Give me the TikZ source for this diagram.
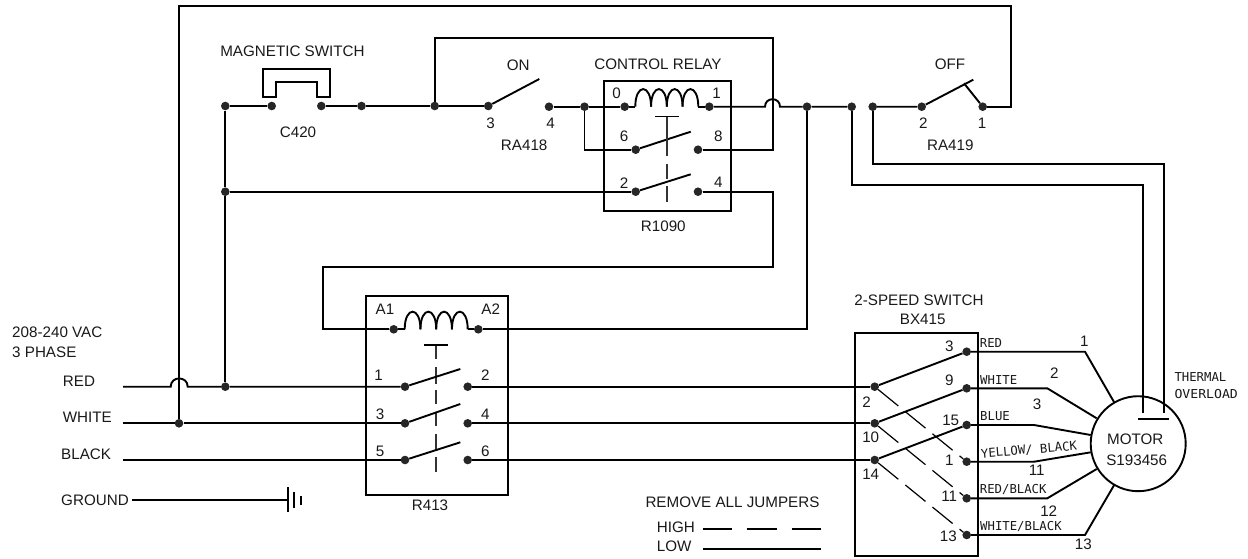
\documentclass[tikz,border=0pt]{standalone}
\usepackage{fontspec}
\setmainfont{Liberation Sans}
\newfontfamily\monolab{DejaVu Sans Mono}
\tikzset{
  wire/.style={line width=1.9pt,black},
  dashwire/.style={line width=1.2pt,black,dash pattern=on 26pt off 9pt},
  boxline/.style={line width=1.9pt,black},
  dotn/.style={circle,fill=black!85,inner sep=0pt,minimum size=8.6pt},
  lab/.style={inner sep=0pt,font=\fontsize{15.2}{16}\selectfont,text=black!90},
  labl/.style={lab,anchor=west},
  mlab/.style={inner sep=0pt,anchor=west,font=\monolab\fontsize{12.3}{13}\selectfont,text=black!90},
  crbar/.style={line width=1.3pt,black!80,dash pattern=on 39pt off 8pt on 15pt off 7pt on 17pt off 50pt},
  rbar/.style={line width=1.3pt,black!80,dash pattern=on 14pt off 8pt on 17pt off 6pt on 14pt off 9pt on 12.5pt off 8.5pt on 16pt off 6.5pt on 15pt off 50pt},
}
\newcommand{\coilshape}[2]{%
  \foreach \k in {0,1,2,3}{
    \draw[wire] ({#1+\k*15.75},#2) .. controls ({#1+\k*15.75},{#2-23.5}) and ({#1+(\k+1)*15.75},{#2-23.5}) .. ({#1+(\k+1)*15.75},#2);
  }}
\begin{document}
\begin{tikzpicture}[x=1pt,y=-1pt]
\useasboundingbox (0,0) rectangle (1248,558);
% ---- boxes
\node[draw,boxline,inner sep=0pt,minimum width=127pt,minimum height=130.3pt,anchor=north west] (boxCR) at (603.3,80) {};
\node[draw,boxline,inner sep=0pt,minimum width=142.3pt,minimum height=199.3pt,anchor=north west] (boxR) at (365,294.7) {};
\node[draw,boxline,inner sep=0pt,minimum width=123.3pt,minimum height=222.7pt,anchor=north west] (boxS) at (853.7,332) {};
\node[draw,boxline,circle,inner sep=0pt,minimum size=95pt] (motor) at (1138.2,443.7) {};
% ---- dots top row
\foreach \n/\x/\y in {jA/225.3/106, cL/271.7/106, cR/321.3/106, jB/361.5/106, jC/434.7/106, on3/488.3/106, on4/549/106.7, jD/584.5/106.7,
  cr0/624.7/106.7, cr1/709.3/106.7, jE/807/106.7, jF/851.7/106.7, jG/872.7/106.7, off2/921.7/106.7, off1/982.7/106.7,
  cr6/635.7/149.7, cr8/698/149.7, cr2/635.7/191.7, cr4/698/191.7, jH/225.3/191.7,
  a1/393.7/329.3, a2/478.3/329.3,
  r1/405/386.7, r2/467.7/386.7, r3/405/423.3, r4/467.7/423.3, r5/405/460, r6/467.7/460,
  jR/225.3/386.7, jW/179/423.3,
  sa/874.7/386.7, sb/874.7/423.3, sc/874.7/460,
  s3/966.7/351.7, s9/966.7/388.3, s15/966.7/425, s1/966.7/461.7, s11/966.7/498.3, s13/966.7/535}{
  \node[dotn] (\n) at (\x,\y) {};
}
% ---- free coordinates
\foreach \n/\x/\y in {inR/123/386.7, inW/123/423.3, inB/123/460, hopRL/170.7/386.7, hopRR/187.7/386.7,
  topL/179/5.7, topR/1011.3/5.7, offC/1011.3/106.7,
  upL/434.7/37.7, upR/772.7/37.7, cr8C/772.7/149.7, hopL/765/106.7, hopR/780/106.7,
  jDd/584.5/149.7, cr4C/772.7/191.7, cr4D/772.7/267, a1U/323/267, a1D/323/329.3, a2C/807/329.3,
  ola/872.7/164, olb/1164.3/164, olc/1164.3/412.7, oda/851.7/185, odb/1143.3/185, odc/1143.3/412.7,
  gndL/132.3/500, gndP/288.3/500,
  onT/539.3/79, crT6/690.7/131.7, crT2/690.7/174.3, offT/973.3/79.7, offK/964/83.3,
  rT1/460.3/369, rT3/460.3/404, rT5/460.3/442.3,
  m1a/1085/351.7, m1b/1114/402, m2a/1047.3/388.3, m2b/1096.7/418.3, m3a/1034/425, m3b/1090.7/435,
  m4a/1034/461.7, m4b/1090.7/452.3, m5a/1047.3/498.3, m5b/1096.7/469, m6a/1085/535, m6b/1114/485.3,
  hA/702.7/529, hB/731.7/529, hC/746.7/529, hD/776.7/529, hE/791.7/529, hF/820.7/529, lA/702.7/549.3, lB/820.7/549.3}{
  \coordinate (\n) at (\x,\y);
}
% ---- top wiring
\draw[wire] (jW) -- (topL) -- (topR) -- (offC) -- (off1);
\draw[wire] (jR) -- (jH) -- (jA) -- (cL);
\draw[wire] (jH) -- (cr2);
\draw[wire] (cR) -- (jB) -- (jC) -- (on3);
\draw[wire] (jC) -- (upL) -- (upR) -- (cr8C) -- (cr8);
\draw[wire] (on3) -- (onT);
\draw[wire] (on4) -- (jD) -- (cr0);
\draw[wire] (jD) -- (jDd) -- (cr6);
\draw[wire] (cr6) -- (crT6);
\draw[wire] (cr2) -- (crT2);
\draw[wire] (cr0) -- (635.3,106.7);
\draw[wire] (698.3,106.7) -- (cr1);
\coilshape{635.3}{106.7}
\draw[wire] (cr1) -- (hopL) .. controls +(0,-10) and +(0,-10) .. (hopR) -- (jE) -- (jF);
\draw[wire] (jG) -- (off2) -- (offT);
\draw[wire] (offK) -- (off1);
\draw[wire] (jF) -- (oda) -- (odb) -- (odc);
\draw[wire] (jG) -- (ola) -- (olb) -- (olc);
\draw[wire] (1138.3,419.3) -- (1169.3,419.3);
\draw[wire] (cr4) -- (cr4C) -- (cr4D) -- (a1U) -- (a1D) -- (a1);
\draw[wire] (a2) -- (a2C) -- (jE);
% ---- magnetic switch
\draw[wire] (262.7,97) -- (262.7,69) -- (330.3,69) -- (330.3,97) -- (317,97) -- (317,82.3) -- (276.3,82.3) -- (276.3,97) -- cycle;
% ---- relay linkage
\draw[crbar] (667,116.7) -- (667,202);
\draw[wire,line width=1.4pt] (655,116.7) -- (679,116.7);
\draw[rbar] (436,345) -- (436,471.7);
\draw[wire,line width=1.4pt] (424,345) -- (448.3,345);
% ---- R413
\draw[wire] (a1) -- (404.7,329.3);
\draw[wire] (467.7,329.3) -- (a2);
\coilshape{404.7}{329.3}
\draw[wire] (r1) -- (rT1);
\draw[wire] (r3) -- (rT3);
\draw[wire] (r5) -- (rT5);
% ---- lines
\draw[wire] (inR) -- (hopRL) .. controls +(0,-11) and +(0,-11) .. (hopRR) -- (jR) -- (r1);
\draw[wire] (inW) -- (jW) -- (r3);
\draw[wire] (inB) -- (r5);
\draw[wire] (r2) -- (sa);
\draw[wire] (r4) -- (sb);
\draw[wire] (r6) -- (sc);
% ---- ground
\draw[wire] (gndL) -- (gndP);
\draw[wire] (288.3,487.3) -- (288.3,512);
\draw[wire] (294,492) -- (294,508);
\draw[wire] (300.7,496) -- (300.7,504.7);
% ---- 2-speed switch
\draw[wire] (sa) -- (s3);
\draw[wire] (sb) -- (s9);
\draw[wire] (sc) -- (s15);
\draw[dashwire] (sa) -- (s1);
\draw[dashwire] (sb) -- (s11);
\draw[dashwire] (sc) -- (s13);
\draw[wire] (s3) -- (m1a) -- (m1b);
\draw[wire] (s9) -- (m2a) -- (m2b);
\draw[wire] (s15) -- (m3a) -- (m3b);
\draw[wire] (s1) -- (m4a) -- (m4b);
\draw[wire] (s11) -- (m5a) -- (m5b);
\draw[wire] (s13) -- (m6a) -- (m6b);
% ---- legend
\draw[wire,line width=1.3pt] (hA) -- (hB);
\draw[wire,line width=1.3pt] (hC) -- (hD);
\draw[wire,line width=1.3pt] (hE) -- (hF);
\draw[wire] (lA) -- (lB);
% ---- labels
\foreach \n/\x/\y/\t in {
 tMag/292.5/51/MAGNETIC SWITCH, tC/298/132/C420, tOn/518.2/65/ON, tOn3/490.7/123.3/3, tOn4/550.7/123.3/4, tRA8/524.2/145/RA418,
 tCR/658/64.3/CONTROL RELAY, tC0/616.7/93.3/0, tC1/716.7/93.3/1, tC6/624/136.7/6, tC8/718.3/136.7/8, tC2/624/182.7/2, tC4/718.3/182.7/4, tR1090/663.3/226/R1090,
 tOff/950/64.7/OFF, tO2/923.3/123.3/2, tO1/982/123.3/1, tRA9/950.3/145.3/RA419,
 tA1/385/309.3/A1, tA2/490.7/309.3/A2, tR1/378.7/375/1, tR2/485.3/375/2, tR3/380/414.7/3, tR4/485.3/414.7/4, tR5/380/451.7/5, tR6/485.3/451.7/6, tR413/430/505.7/R413,
 tSp/919/300.7/2-SPEED SWITCH, tBX/922.7/319/BX415,
 tS2/866.7/401.7/2, tS10/870.7/437.7/10, tS14/870.7/474/14,
 tS3/949.3/346.3/3, tS9/949.3/380/9, tS15/950.7/420/15, tS1/949.3/460.7/1, tS11/949.3/496/11, tS13/948.3/536/13,
 tM1/1084.3/341.7/1, tM2/1054.3/373.3/2, tM3/1037/404.3/3, tM11/1036.7/470.7/11, tM12/1048.7/510.7/12, tM13/1083.3/544.3/13,
 tMot/1135.3/439.3/MOTOR, tSn/1136.7/460.7/S193456, tRem/732.5/502.3/REMOVE ALL JUMPERS}{
  \node[lab] (\n) at (\x,\y) {\t};
}
\foreach \n/\x/\y/\t in {tV/12/332.7/208-240 VAC, tP/12/352/3 PHASE, tRed/62.7/381/RED, tWh/62.7/417.7/WHITE, tBl/61/454.7/BLACK, tGnd/61/500/GROUND, tHi/656.7/527.7/HIGH, tLo/656.7/546.7/LOW}{
  \node[labl] (\n) at (\x,\y) {\t};
}
\foreach \n/\x/\y/\t in {mRed/979.7/342.7/RED, mWh/980/379.7/WHITE, mBl/980/416/BLUE, mRB/979.7/489.3/{RED/BLACK}, mWB/980/526/{WHITE/BLACK}, mTh/1174.3/376.7/THERMAL, mOv/1174.3/394/\scalebox{1.07}[1]{OVERLOAD}}{
  \node[mlab] (\n) at (\x,\y) {\t};
}
\node[mlab,anchor=center,rotate=5] (mYB) at (1029,450) {YELLOW/ BLACK};
\end{tikzpicture}
\end{document}
